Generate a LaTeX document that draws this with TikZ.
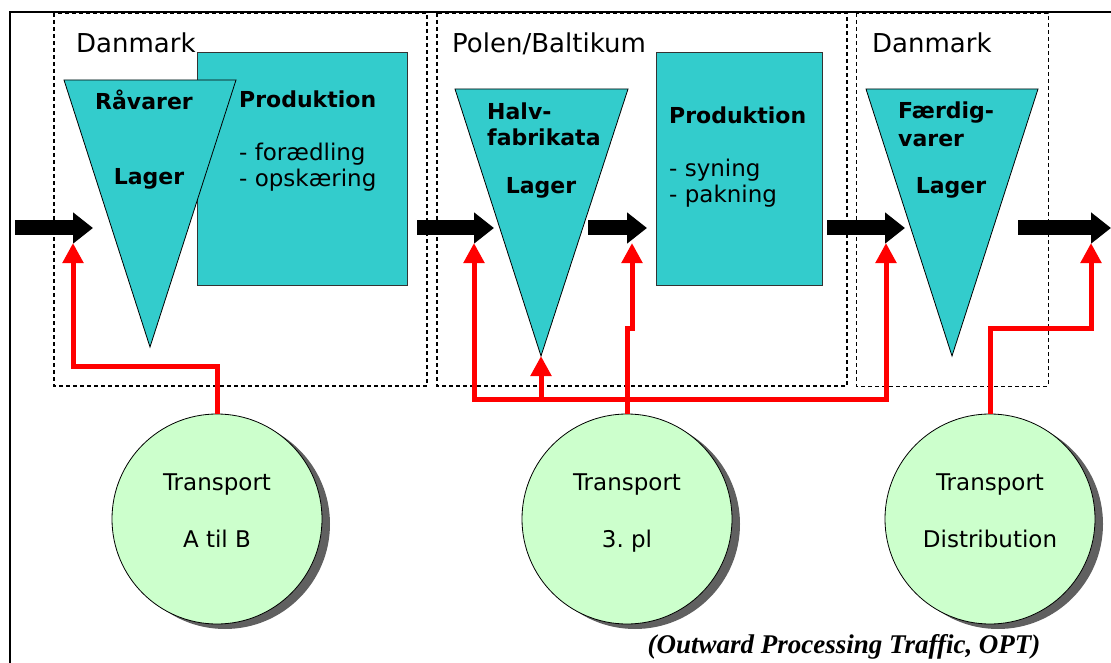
\documentclass[tikz,border=0pt]{standalone}
\usepackage{fontspec}
\setmainfont{DejaVu Sans}
\newfontfamily\captionfont{Liberation Serif}
\usetikzlibrary{arrows.meta, shadows, calc}
\definecolor{lagerteal}{RGB}{51,204,204}
\definecolor{transpgreen}{RGB}{204,255,204}
\definecolor{shadowgray}{RGB}{96,96,96}
\newcommand{\lagertri}[4]{
    \coordinate (#1) at #4;
    \draw[lagerfill] #2 -- #3 -- (#1) -- cycle;
}
\tikzset{
    lagerfill/.style={fill=lagerteal, draw=black, line width=0.8pt},
    prodbox/.style={fill=lagerteal, draw=black!80, line width=0.8pt},
    region/.style={draw, line width=1.1pt, dash pattern=on 4pt off 3pt},
    flow/.style={line width=15pt, -{Triangle[length=20pt, width=30pt]}},
    supply/.style={red, line width=5pt, -{Triangle[length=20pt, width=20pt]}},
    transp/.style={circle, draw, line width=0.8pt, fill=transpgreen,
        minimum size=210pt,
        drop shadow={shadow xshift=8pt, shadow yshift=-5pt, opacity=1, fill=shadowgray}},
    bigtxt/.style={inner sep=0pt, font=\fontsize{26}{30}\selectfont},
    txt/.style={inner sep=0pt, font=\fontsize{23}{26}\selectfont},
    btxt/.style={inner sep=0pt, font=\bfseries\fontsize{22}{26}\selectfont}
}

\begin{document}
\begin{tikzpicture}[x=1pt, y=-1pt]
    \useasboundingbox (0,0) rectangle (1111,663);
    % frame and regions
    \draw[line width=1.5pt] (10,663) -- (10,12) -- (1111,12);
    \draw[region] (54,13) rectangle (427,386);
    \draw[region] (437,13) rectangle (847,386);
    \draw[region, line width=0.7pt] (856,13) rectangle (1048,386);
    \node[bigtxt, anchor=base west] (dk1) at (76,53) {Danmark};
    \node[bigtxt, anchor=base west] (pl) at (452,53) {Polen/Baltikum};
    \node[bigtxt, anchor=base west] (dk2) at (872,53) {Danmark};

    % production
    \draw[prodbox] (197,52) rectangle (407,285);
    \draw[prodbox] (656,52) rectangle (822,285);
    \node[btxt, anchor=base west] at (239,108) {Produktion};
    \node[txt, anchor=base west] at (239,161) {- forædling};
    \node[txt, anchor=base west] at (239,187) {- opskæring};
    \node[btxt, anchor=base west] at (669,124) {Produktion};
    \node[txt, anchor=base west] at (669,177) {- syning};
    \node[txt, anchor=base west] at (669,203) {- pakning};

    % lagre
    \lagertri{lager1}{(64,80)}{(236,80)}{(150,347)}
    \lagertri{lager2}{(455,89)}{(628,89)}{(541,356)}
    \lagertri{lager3}{(866,89)}{(1038,89)}{(952,356)}
    \node[btxt, anchor=base] at (144,110) {Råvarer};
    \node[btxt, anchor=base] at (149,185) {Lager};
    \node[btxt, anchor=base west] at (487,120) {Halv-};
    \node[btxt, anchor=base west] at (487,146) {fabrikata};
    \node[btxt, anchor=base] at (541,194) {Lager};
    \node[btxt, anchor=base west] at (898,119) {Færdig-};
    \node[btxt, anchor=base west] at (898,147) {varer};
    \node[btxt, anchor=base] at (951,194) {Lager};

    % material flow
    \foreach \n/\a/\b in {1/15/93, 2/417/494, 3/588/647, 4/827/905, 5/1018/1111} {
        \coordinate (fs\n) at (\a,228);
        \coordinate (fe\n) at (\b,228);
    }
    \foreach \n in {1,...,5}
        \draw[flow] (fs\n) -- (fe\n);

    % transport
    \node[transp] (t1) at (217,519) {};
    \node[transp] (t2) at (627,519) {};
    \node[transp] (t3) at (990,519) {};
    \node[txt, anchor=base] at ($(t1)+(0,-29)$) {Transport};
    \node[txt, anchor=base] at ($(t1)+(0,28)$) {A til B};
    \node[txt, anchor=base] at ($(t2)+(0,-29)$) {Transport};
    \node[txt, anchor=base] at ($(t2)+(0,28)$) {3.\ pl};
    \node[txt, anchor=base] at ($(t3)+(0,-29)$) {Transport};
    \node[txt, anchor=base] at ($(t3)+(0,28)$) {Distribution};

    % supply lines
    \coordinate (in1) at (73,243);
    \coordinate (in2) at (474,243);
    \coordinate (in3) at (632,243);
    \coordinate (in4) at (886,243);
    \coordinate (in5) at (1091,243);
    \coordinate (k1) at (73,366);
    \coordinate (k2) at (632,328);
    \coordinate (k3) at (1091,328);
    \coordinate (bus) at (627,399);
    \draw[supply] (t1.north) |- (k1) -- (in1);
    \draw[supply] (t2.north) -- (bus) -| (in2);
    \draw[supply] (bus) -| (in4);
    \draw[supply] (bus -| lager2) -- (lager2);
    \draw[supply] (t2.north) |- (k2) -- (in3);
    \draw[supply] (t3.north) |- (k3) -- (in5);

    \node[inner sep=0pt, font=\captionfont\bfseries\itshape\fontsize{27}{30}\selectfont, anchor=base]
        (opt) at (844,653) {(Outward Processing Traffic, OPT)};
\end{tikzpicture}
\end{document}
